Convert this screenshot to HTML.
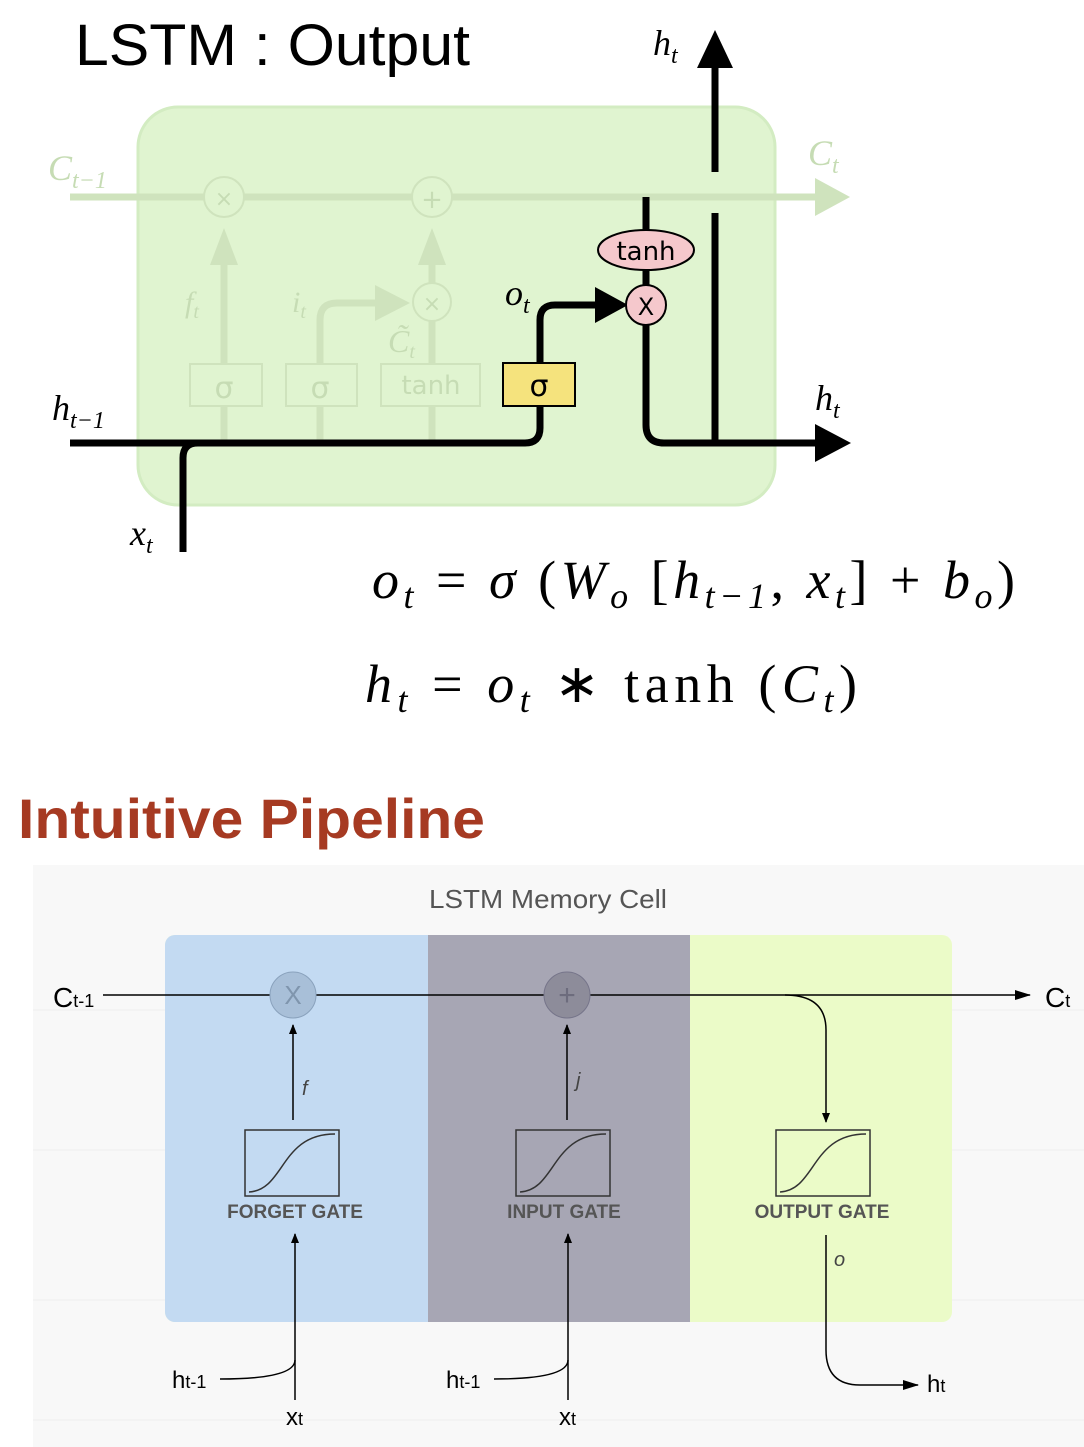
<!DOCTYPE html>
<html><head><style>body{margin:0;background:#fff}svg{display:block}</style></head><body>
<svg width="1084" height="1447" viewBox="0 0 1084 1447" xmlns="http://www.w3.org/2000/svg">
<defs>
<marker id="ah" markerWidth="10" markerHeight="8" refX="9" refY="4" orient="auto" markerUnits="userSpaceOnUse"><path d="M0,0L10,4L0,8z" fill="#000"/></marker>
<marker id="ah2" markerWidth="16" markerHeight="10" refX="15" refY="5" orient="auto" markerUnits="userSpaceOnUse"><path d="M0,0L16,5L0,10z" fill="#000"/></marker>
</defs>
<text x="75" y="65" font-family="Liberation Sans, sans-serif" font-size="58" fill="#000" textLength="395" lengthAdjust="spacingAndGlyphs">LSTM : Output</text>
<rect x="138" y="107" width="637" height="398" rx="40" fill="#e0f4d0" stroke="#d3ecc2" stroke-width="3"/>
<g stroke="#cfe3bd" fill="none" stroke-width="7">
<line x1="70" y1="197" x2="820" y2="197"/>
<line x1="224" y1="405" x2="224" y2="260"/><line x1="432" y1="440" x2="432" y2="260"/>
<line x1="320" y1="440" x2="320" y2="405"/><line x1="224" y1="440" x2="224" y2="405"/>
<path d="M320,365 V320 Q320,303 337,303 H378"/>
</g>
<g fill="#cfe3bd"><path d="M815,178L850,197L815,216z"/><path d="M210,265L224,228L238,265z"/><path d="M418,265L432,228L446,265z"/><path d="M375,285L410,303L375,321z"/></g>
<g fill="#e0f4d0" stroke="#cfe3bd" stroke-width="2"><circle cx="224" cy="197" r="20"/><circle cx="432" cy="197" r="20"/><circle cx="432" cy="302" r="19"/>
<rect x="190" y="364" width="72" height="42"/><rect x="286" y="364" width="71" height="42"/><rect x="381" y="364" width="99" height="42"/></g>
<g font-family="DejaVu Sans, sans-serif" fill="#c6dcb4" text-anchor="middle"><text x="224" y="206" font-size="22">×</text><text x="432" y="208" font-size="26">+</text><text x="432" y="311" font-size="22">×</text>
<text x="224" y="398" font-size="30">σ</text><text x="320" y="398" font-size="30">σ</text><text x="431" y="394" font-size="26">tanh</text></g>
<g font-family="Liberation Serif, serif" font-style="italic" fill="#c6dcb4" font-size="36"><text x="48" y="180">C<tspan font-size="24" dy="8">t−1</tspan></text><text x="808" y="165">C<tspan font-size="24" dy="8">t</tspan></text>
<text x="185" y="312" font-size="30">f<tspan font-size="20" dy="6">t</tspan></text><text x="292" y="312" font-size="30">i<tspan font-size="20" dy="6">t</tspan></text><text x="388" y="352" font-size="32">C̃<tspan font-size="20" dy="6">t</tspan></text></g>
<g stroke="#000" fill="none" stroke-width="7">
<path d="M70,443 H525 Q540,443 540,428 V406"/>
<path d="M183,552 V458 Q183,443 198,443"/>
<path d="M540,363 V320 Q540,305 555,305 H600"/>
<path d="M646,197 V425 Q646,443 664,443 H815"/>
<path d="M715,213 V443"/><path d="M715,172 V60"/>
</g>
<path d="M595,287L628,305L595,323z" fill="#000"/><path d="M815,424L851,443L815,462z"/><path d="M697,68L715,30L733,68z"/>
<rect x="503" y="363" width="72" height="43" fill="#f5e37d" stroke="#000" stroke-width="2"/>
<text x="539" y="396" font-family="DejaVu Sans, sans-serif" font-size="30" text-anchor="middle">σ</text>
<ellipse cx="646" cy="250" rx="48" ry="20" fill="#f5c8cc" stroke="#000" stroke-width="2"/>
<text x="646" y="260" font-family="DejaVu Sans, sans-serif" font-size="26" text-anchor="middle">tanh</text>
<circle cx="646" cy="305" r="20" fill="#f5c8cc" stroke="#000" stroke-width="2"/>
<text x="646" y="315" font-family="DejaVu Sans, sans-serif" font-size="24" text-anchor="middle">X</text>
<g font-family="Liberation Serif, serif" font-style="italic" font-size="36"><text x="52" y="420">h<tspan font-size="24" dy="8">t−1</tspan></text><text x="130" y="545">x<tspan font-size="24" dy="8">t</tspan></text>
<text x="505" y="305">o<tspan font-size="24" dy="8">t</tspan></text><text x="815" y="410">h<tspan font-size="24" dy="8">t</tspan></text><text x="653" y="55">h<tspan font-size="24" dy="8">t</tspan></text></g>
<g font-family="Liberation Serif, serif" font-size="54"><text x="372" y="598" textLength="643" lengthAdjust="spacing"><tspan font-style="italic">o</tspan><tspan font-style="italic" font-size="36" dy="10">t</tspan><tspan dy="-10"> = </tspan><tspan font-style="italic">σ</tspan> (<tspan font-style="italic">W</tspan><tspan font-style="italic" font-size="36" dy="10">o</tspan><tspan dy="-10">  [</tspan><tspan font-style="italic">h</tspan><tspan font-style="italic" font-size="36" dy="10">t−1</tspan><tspan dy="-10">, </tspan><tspan font-style="italic">x</tspan><tspan font-style="italic" font-size="36" dy="10">t</tspan><tspan dy="-10">]  +  </tspan><tspan font-style="italic">b</tspan><tspan font-style="italic" font-size="36" dy="10">o</tspan><tspan dy="-10">)</tspan></text>
<text x="365" y="702" textLength="492" lengthAdjust="spacing"><tspan font-style="italic">h</tspan><tspan font-style="italic" font-size="36" dy="10">t</tspan><tspan dy="-10"> = </tspan><tspan font-style="italic">o</tspan><tspan font-style="italic" font-size="36" dy="10">t</tspan><tspan dy="-10"> ∗ tanh (</tspan><tspan font-style="italic">C</tspan><tspan font-style="italic" font-size="36" dy="10">t</tspan><tspan dy="-10">)</tspan></text></g>
<text x="18" y="838" font-family="Liberation Sans, sans-serif" font-weight="bold" font-size="56" fill="#a63a22" textLength="467" lengthAdjust="spacingAndGlyphs">Intuitive Pipeline</text>
<rect x="33" y="865" width="1051" height="582" fill="#f8f8f8"/>
<g stroke="#eeeeee" stroke-width="1"><line x1="33" y1="1010" x2="1084" y2="1010"/><line x1="33" y1="1150" x2="1084" y2="1150"/><line x1="33" y1="1300" x2="1084" y2="1300"/><line x1="33" y1="1420" x2="1084" y2="1420"/></g>
<text x="548" y="908" font-family="Liberation Sans, sans-serif" font-size="26" fill="#555" text-anchor="middle" textLength="238" lengthAdjust="spacingAndGlyphs">LSTM Memory Cell</text>
<rect x="165" y="935" width="787" height="387" rx="10" fill="#ebfbc8"/>
<rect x="165" y="935" width="263" height="387" rx="10" fill="#c3daf2"/><rect x="175" y="935" width="253" height="387" fill="#c3daf2"/>
<rect x="428" y="935" width="262" height="387" fill="#a7a6b4"/>
<g stroke="#000" stroke-width="1.5" fill="none">
<line x1="103" y1="995" x2="1030" y2="995" marker-end="url(#ah2)"/>
<path d="M785,995 Q826,995 826,1030 V1122" marker-end="url(#ah)"/>
<line x1="293" y1="1120" x2="293" y2="1025" marker-end="url(#ah)"/>
<line x1="567" y1="1120" x2="567" y2="1025" marker-end="url(#ah)"/>
<line x1="295" y1="1400" x2="295" y2="1234" marker-end="url(#ah)"/>
<line x1="568" y1="1400" x2="568" y2="1234" marker-end="url(#ah)"/>
<path d="M220,1379 Q295,1379 295,1360"/><path d="M494,1379 Q568,1379 568,1360"/>
<path d="M826,1235 V1350 Q826,1385 860,1385 H918" marker-end="url(#ah2)"/>
</g>
<circle cx="293" cy="995" r="23" fill="#a8bfd8" stroke="#8aa2bd"/><text x="293" y="1004" text-anchor="middle" font-family="Liberation Sans, sans-serif" font-size="26" fill="#7f95ad">X</text>
<circle cx="567" cy="995" r="23" fill="#8d8c9a" stroke="#76758a"/><text x="567" y="1005" text-anchor="middle" font-family="Liberation Sans, sans-serif" font-size="30" fill="#6d6c7d">+</text>
<g stroke="#333" stroke-width="1.5" fill="none">
<rect x="245" y="1130" width="94" height="66"/><rect x="516" y="1130" width="94" height="66"/><rect x="776" y="1130" width="94" height="66"/>
<path d="M249,1192 C285,1190 280,1134 335,1134"/><path d="M520,1192 C556,1190 551,1134 606,1134"/><path d="M780,1192 C816,1190 811,1134 866,1134"/>
</g>
<g font-family="Liberation Sans, sans-serif" font-weight="bold" font-size="19" fill="#555" text-anchor="middle"><text x="295" y="1218">FORGET GATE</text><text x="564" y="1218">INPUT GATE</text><text x="822" y="1218">OUTPUT GATE</text></g>
<g font-family="Liberation Sans, sans-serif" font-style="italic" font-size="20" fill="#444"><text x="302" y="1095">f</text><text x="576" y="1087">j</text><text x="834" y="1266">o</text></g>
<g font-family="Liberation Sans, sans-serif" font-size="28" fill="#000"><text x="53" y="1007">C<tspan font-size="18">t-1</tspan></text><text x="1045" y="1007">C<tspan font-size="18">t</tspan></text>
<text x="172" y="1388" font-size="24">h<tspan font-size="18">t-1</tspan></text><text x="446" y="1388" font-size="24">h<tspan font-size="18">t-1</tspan></text>
<text x="286" y="1425" font-size="24">x<tspan font-size="18">t</tspan></text><text x="559" y="1425" font-size="24">x<tspan font-size="18">t</tspan></text>
<text x="927" y="1392" font-size="24">h<tspan font-size="18">t</tspan></text></g>
</svg>
</body></html>
